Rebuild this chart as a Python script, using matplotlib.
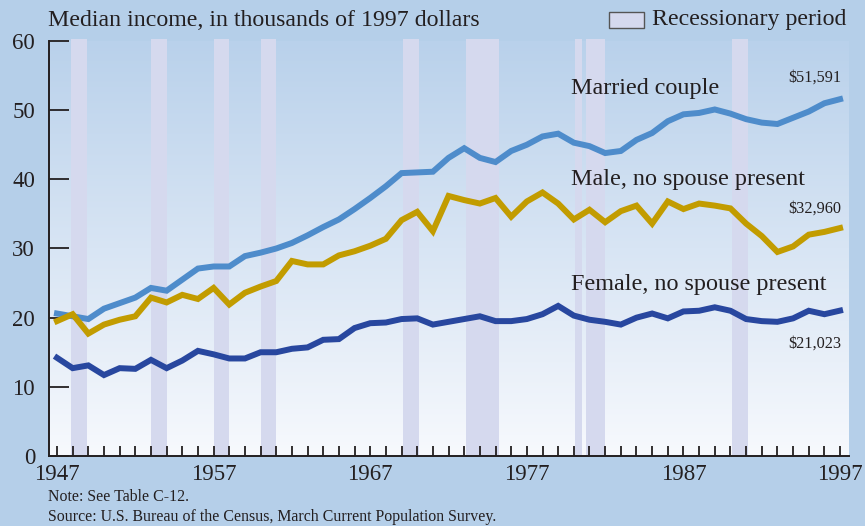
import numpy as np
import matplotlib
matplotlib.use("Agg")
import matplotlib.pyplot as plt
from matplotlib.patches import Rectangle

# Datos (miles de dolares de 1997)
years = list(range(1947, 1998))

married = [20.6, 20.2, 19.8, 21.3, 22.1, 22.9, 24.3, 23.9, 25.5, 27.1,
           27.4, 27.4, 28.9, 29.4, 30.0, 30.8, 31.9, 33.1, 34.2, 35.7,
           37.3, 39.0, 40.9, 41.0, 41.1, 43.1, 44.5, 43.1, 42.5, 44.1,
           45.0, 46.2, 46.6, 45.3, 44.8, 43.8, 44.1, 45.7, 46.7, 48.4,
           49.4, 49.6, 50.1, 49.5, 48.7, 48.2, 48.0, 48.9, 49.8, 51.0,
           51.591]

male = [19.5, 20.5, 17.7, 19.0, 19.7, 20.2, 22.9, 22.2, 23.3, 22.7,
        24.3, 21.9, 23.6, 24.5, 25.3, 28.2, 27.7, 27.7, 29.0, 29.6,
        30.4, 31.4, 34.1, 35.3, 32.5, 37.6, 37.0, 36.5, 37.3, 34.6,
        36.8, 38.1, 36.5, 34.2, 35.6, 33.8, 35.4, 36.2, 33.6, 36.8,
        35.7, 36.5, 36.2, 35.8, 33.6, 31.8, 29.5, 30.3, 32.0, 32.4,
        32.960]

female = [14.2, 12.7, 13.1, 11.7, 12.7, 12.6, 13.9, 12.7, 13.8, 15.2,
          14.7, 14.1, 14.1, 15.0, 15.0, 15.5, 15.7, 16.8, 16.9, 18.5,
          19.2, 19.3, 19.8, 19.9, 19.0, 19.4, 19.8, 20.2, 19.5, 19.5,
          19.8, 20.5, 21.7, 20.3, 19.7, 19.4, 19.0, 20.0, 20.6, 19.9,
          20.9, 21.0, 21.5, 21.0, 19.8, 19.5, 19.4, 19.9, 21.0, 20.5,
          21.023]

recessions = [(1947.9, 1948.9), (1953.0, 1954.0), (1957.0, 1958.0),
              (1960.0, 1961.0), (1969.1, 1970.1), (1973.1, 1975.2),
              (1980.1, 1980.5), (1980.8, 1982.0), (1990.1, 1991.1)]

series_labels = ["Married couple", "Male, no spouse present",
                 "Female, no spouse present"]
end_labels = ["$51,591", "$32,960", "$21,023"]

BG = "#b5cfe9"
BAR = "#d5d9ee"
C_MARRIED = "#4e8ccb"
C_MALE = "#c29c00"
C_FEMALE = "#28479f"
TXT = "#231f20"

plt.rcParams["font.family"] = ["Liberation Serif", "DejaVu Serif"]

fig = plt.figure(figsize=(8.65, 5.26), dpi=100, facecolor=BG)
ax = fig.add_axes([49 / 865, 1 - 456 / 526, 800 / 865, 415 / 526])
ax.set_xlim(1946.49, 1997.57)
ax.set_ylim(0, 60)

# fondo degradado del area de trazado
grad = np.linspace(0, 1, 256).reshape(-1, 1)
top = np.array(matplotlib.colors.to_rgb("#b9d1eb"))
bot = np.array(matplotlib.colors.to_rgb("#f7f9fd"))
img = top * (1 - grad[..., None]) + bot * grad[..., None]
ax.imshow(img, extent=[0, 1, 0, 1], transform=ax.transAxes, aspect="auto",
          zorder=0, origin="upper")

for a, b in recessions:
    ax.axvspan(a, b, ymin=0, ymax=1.005, color=BAR, lw=0, zorder=1, clip_on=False)

lw = 4.3
ax.plot(years, married, color=C_MARRIED, lw=lw, zorder=3, solid_joinstyle="miter")
ax.plot(years, male, color=C_MALE, lw=lw, zorder=3, solid_joinstyle="miter")
ax.plot(years, female, color=C_FEMALE, lw=lw, zorder=3, solid_joinstyle="miter")

ax.text(1979.8, 53.2, series_labels[0], fontsize=17.4, color=TXT, va="center")
ax.text(1979.8, 40.0, series_labels[1], fontsize=17.4, color=TXT, va="center")
ax.text(1979.8, 24.8, series_labels[2], fontsize=17.4, color=TXT, va="center")
ax.text(1997.1, 54.7, end_labels[0], fontsize=11.7, color=TXT, va="center", ha="right")
ax.text(1997.1, 35.8, end_labels[1], fontsize=11.7, color=TXT, va="center", ha="right")
ax.text(1997.1, 16.2, end_labels[2], fontsize=11.7, color=TXT, va="center", ha="right")

for s in ["top", "right"]:
    ax.spines[s].set_visible(False)
for s in ["left", "bottom"]:
    ax.spines[s].set_color(TXT)
    ax.spines[s].set_linewidth(1.4)
    ax.spines[s].set_zorder(4)

ax.set_yticks(range(0, 61, 10))
ax.set_xticks(range(1947, 1998, 10))
ax.set_xticks(range(1947, 1998), minor=True)
ax.tick_params(axis="y", direction="in", length=14.4, width=1.3, color=TXT,
               labelsize=16.5, labelcolor=TXT, pad=10)
ax.tick_params(axis="x", which="both", direction="in", length=7.2, width=1.3,
               color=TXT, labelsize=16.5, labelcolor=TXT, pad=6)
for t in ax.yaxis.get_major_ticks():
    t.tick1line.set_zorder(4)

fig.text(48 / 865, 1 - 20 / 526, "Median income, in thousands of 1997 dollars",
         fontsize=17.2, color=TXT, va="center")
fig.patches.append(Rectangle((609 / 865, 1 - 28 / 526), 35 / 865, 16 / 526,
                             transform=fig.transFigure, facecolor=BAR,
                             edgecolor="#555555", lw=1))
fig.text(652 / 865, 1 - 20 / 526, "Recessionary period", fontsize=17.2,
         color=TXT, va="center")
fig.text(48 / 865, 1 - 497 / 526, "Note: See Table C-12.", fontsize=11.4,
         color=TXT, va="center")
fig.text(48 / 865, 1 - 517 / 526,
         "Source: U.S. Bureau of the Census, March Current Population Survey.",
         fontsize=11.4, color=TXT, va="center")

fig.savefig("out.png", dpi=100, facecolor=BG)
